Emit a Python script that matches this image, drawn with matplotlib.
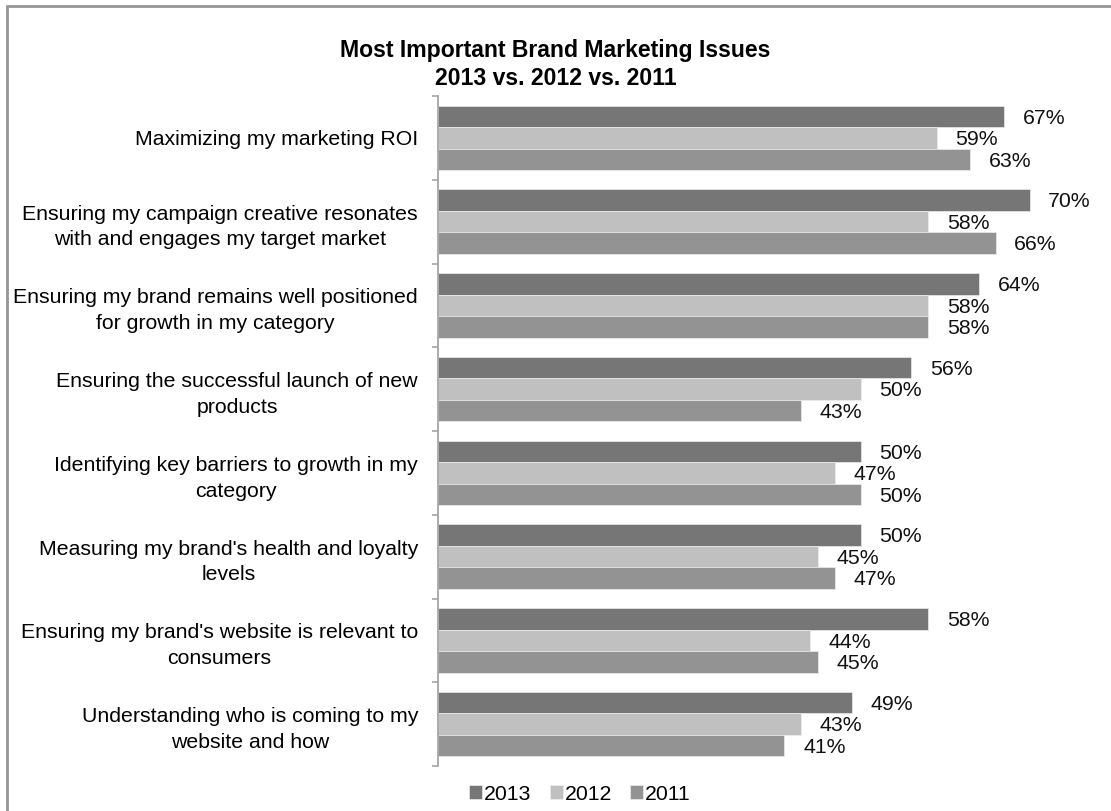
import numpy as np
import matplotlib
matplotlib.use("Agg")
import matplotlib.pyplot as plt
from matplotlib.patches import Rectangle

plt.rcParams["font.family"] = ["Liberation Sans", "DejaVu Sans"]

# issues, top to bottom
issues = [
    "Maximizing my marketing ROI",
    "Ensuring my campaign creative resonates\nwith and engages my target market",
    "Ensuring my brand remains well positioned\nfor growth in my category",
    "Ensuring the successful launch of new\nproducts",
    "Identifying key barriers to growth in my\ncategory",
    "Measuring my brand's health and loyalty\nlevels",
    "Ensuring my brand's website is relevant to\nconsumers",
    "Understanding who is coming to my\nwebsite and how",
]
years = ["2013", "2012", "2011"]
pct2013 = [67, 70, 64, 56, 50, 50, 58, 49]
pct2012 = [59, 58, 58, 50, 47, 45, 44, 43]
pct2011 = [63, 66, 58, 43, 50, 47, 45, 41]
colours = ["#767676", "#c0c0c0", "#939393"]

fig = plt.figure(figsize=(11.11, 8.11), dpi=100)
ax = fig.add_axes([438 / 1111, 45 / 811, 662 / 1111, 670 / 811])

n = len(issues)
centres = np.arange(n)
barH = 0.257
for k, (vals, col, yr) in enumerate(zip([pct2013, pct2012, pct2011], colours, years)):
    ypos = centres + (k - 1) * barH
    ax.barh(ypos, vals, height=barH, color=col, edgecolor="#ececec",
            linewidth=0.5, label=yr)
    for y, v in zip(ypos, vals):
        ax.text(v + 2.2, y + 0.02, f"{v}%", va="center", ha="left", fontsize=15.3, color="#111111")

ax.set_xlim(0, 662 / 8.45)
ax.set_ylim(n - 0.5, -0.5)
ax.set_xticks([])
ax.set_yticks(centres)
ax.set_yticklabels(issues, fontsize=15.3)
for t in ax.get_yticklabels():
    t.set_multialignment("center")
    t.set_linespacing(1.45)
ax.tick_params(axis="y", which="major", length=0, pad=14.4)
ax.set_yticks(np.arange(n + 1) - 0.5, minor=True)
ax.tick_params(axis="y", which="minor", length=4, width=1.2, color="#a6a6a6")

for side in ["top", "right", "bottom"]:
    ax.spines[side].set_visible(False)
ax.spines["left"].set_color("#a6a6a6")
ax.spines["left"].set_linewidth(1.3)

fig.text(0.5, (811 - 90) / 811, "Most Important Brand Marketing Issues\n2013 vs. 2012 vs. 2011",
         ha="center", va="bottom", fontsize=16.6, fontweight="bold", linespacing=1.25)

fig.legend(loc="center", bbox_to_anchor=(580 / 1111, (811 - 794) / 811), ncol=3,
           frameon=False, fontsize=15.3, handlelength=0.6, handleheight=0.6,
           handletextpad=0.1, columnspacing=0.85)

# chart frame
fig.patches.append(Rectangle((7 / 1111, -0.1), 1.2, (811 - 6) / 811 + 0.1,
                             transform=fig.transFigure, fill=False,
                             edgecolor="#969696", linewidth=2))

fig.savefig("out.png", dpi=100)
